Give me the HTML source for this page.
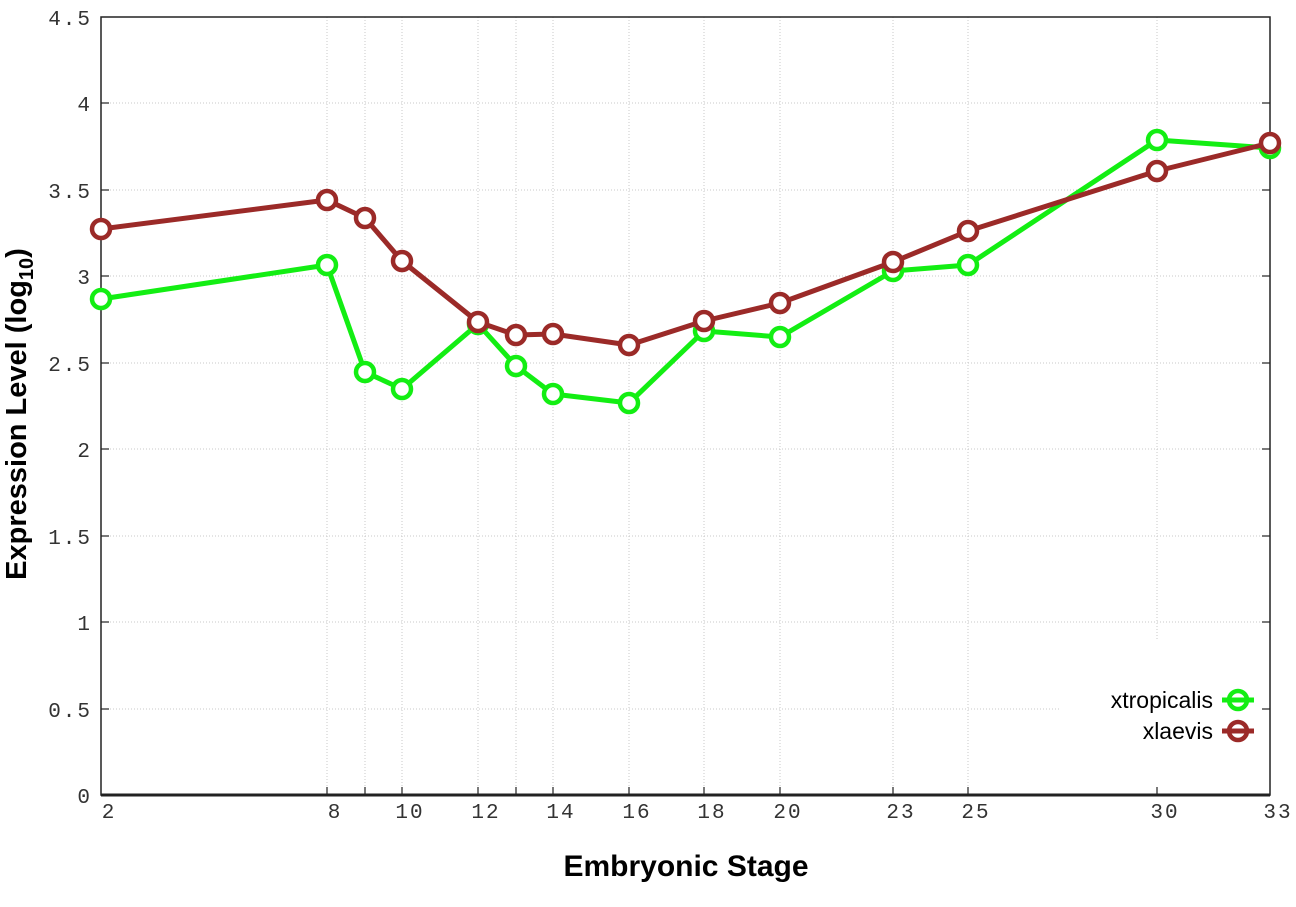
<!DOCTYPE html>
<html><head><meta charset="utf-8"><style>body{margin:0;background:#fff}svg{display:block}</style></head>
<body>
<svg width="1296" height="907" xmlns="http://www.w3.org/2000/svg">
<rect width="1296" height="907" fill="#fff"/>
<g stroke="#c8c8c8" stroke-width="1" stroke-dasharray="1,2">
<line x1="101" x2="1270" y1="103" y2="103"/><line x1="101" x2="1270" y1="190" y2="190"/>
<line x1="101" x2="1270" y1="276" y2="276"/><line x1="101" x2="1270" y1="363" y2="363"/>
<line x1="101" x2="1270" y1="449" y2="449"/><line x1="101" x2="1270" y1="536" y2="536"/>
<line x1="101" x2="1270" y1="622" y2="622"/><line x1="101" x2="1060" y1="709" y2="709"/>
<line x1="327" x2="327" y1="17" y2="795"/><line x1="365" x2="365" y1="17" y2="795"/>
<line x1="402" x2="402" y1="17" y2="795"/><line x1="478" x2="478" y1="17" y2="795"/>
<line x1="516" x2="516" y1="17" y2="795"/><line x1="553" x2="553" y1="17" y2="795"/>
<line x1="629" x2="629" y1="17" y2="795"/><line x1="704" x2="704" y1="17" y2="795"/>
<line x1="780" x2="780" y1="17" y2="795"/><line x1="893" x2="893" y1="17" y2="795"/>
<line x1="968" x2="968" y1="17" y2="795"/><line x1="1157" x2="1157" y1="17" y2="640"/>
</g>
<rect x="101" y="17" width="1169" height="778" fill="none" stroke="#222" stroke-width="1.5"/>
<line x1="101" x2="1270" y1="795" y2="795" stroke="#222" stroke-width="3"/>
<g stroke="#222" stroke-width="1.2">
<line x1="101" x2="109" y1="103" y2="103"/><line x1="101" x2="109" y1="190" y2="190"/><line x1="101" x2="109" y1="276" y2="276"/><line x1="101" x2="109" y1="363" y2="363"/><line x1="101" x2="109" y1="449" y2="449"/><line x1="101" x2="109" y1="536" y2="536"/><line x1="101" x2="109" y1="622" y2="622"/><line x1="101" x2="109" y1="709" y2="709"/>
<line x1="1262" x2="1270" y1="103" y2="103"/><line x1="1262" x2="1270" y1="190" y2="190"/><line x1="1262" x2="1270" y1="276" y2="276"/><line x1="1262" x2="1270" y1="363" y2="363"/><line x1="1262" x2="1270" y1="449" y2="449"/><line x1="1262" x2="1270" y1="536" y2="536"/><line x1="1262" x2="1270" y1="622" y2="622"/><line x1="1262" x2="1270" y1="709" y2="709"/>
<line x1="327" x2="327" y1="787" y2="795"/><line x1="365" x2="365" y1="787" y2="795"/><line x1="402" x2="402" y1="787" y2="795"/><line x1="478" x2="478" y1="787" y2="795"/><line x1="516" x2="516" y1="787" y2="795"/><line x1="553" x2="553" y1="787" y2="795"/><line x1="629" x2="629" y1="787" y2="795"/><line x1="704" x2="704" y1="787" y2="795"/><line x1="780" x2="780" y1="787" y2="795"/><line x1="893" x2="893" y1="787" y2="795"/><line x1="968" x2="968" y1="787" y2="795"/><line x1="1157" x2="1157" y1="787" y2="795"/>
</g>
<g font-family="Liberation Mono, monospace" font-size="21" fill="#333" text-anchor="end" letter-spacing="2">
<text x="92" y="25">4.5</text><text x="92" y="111">4</text><text x="92" y="198">3.5</text><text x="92" y="284">3</text><text x="92" y="371">2.5</text><text x="92" y="457">2</text><text x="92" y="544">1.5</text><text x="92" y="630">1</text><text x="92" y="717">0.5</text><text x="92" y="803">0</text>
</g>
<g font-family="Liberation Mono, monospace" font-size="21" fill="#333" text-anchor="middle" letter-spacing="2">
<text x="109" y="818">2</text><text x="335" y="818">8</text><text x="410" y="818">10</text><text x="486" y="818">12</text><text x="561" y="818">14</text><text x="637" y="818">16</text><text x="712" y="818">18</text><text x="788" y="818">20</text><text x="901" y="818">23</text><text x="976" y="818">25</text><text x="1165" y="818">30</text><text x="1278" y="818">33</text>
</g>
<text x="686" y="876" font-family="Liberation Sans, sans-serif" font-weight="bold" font-size="30" text-anchor="middle">Embryonic Stage</text>
<text transform="translate(26,414) rotate(-90)" font-family="Liberation Sans, sans-serif" font-weight="bold" font-size="29" text-anchor="middle">Expression Level (log<tspan font-size="20" dy="7">10</tspan><tspan dy="-7">)</tspan></text>
<g fill="none" stroke-width="5" stroke-linejoin="round">
<polyline stroke="#13ee13" points="101,299 327,265 365,372 402,389 478,324 516,366 553,394 629,403 704,331 780,337 893,271 968,265 1157,140 1270,148"/>
<g stroke="#13ee13" stroke-width="4.5" fill="#fff">
<circle cx="101" cy="299" r="9"/><circle cx="327" cy="265" r="9"/><circle cx="365" cy="372" r="9"/><circle cx="402" cy="389" r="9"/><circle cx="478" cy="324" r="9"/><circle cx="516" cy="366" r="9"/><circle cx="553" cy="394" r="9"/><circle cx="629" cy="403" r="9"/><circle cx="704" cy="331" r="9"/><circle cx="780" cy="337" r="9"/><circle cx="893" cy="271" r="9"/><circle cx="968" cy="265" r="9"/><circle cx="1157" cy="140" r="9"/><circle cx="1270" cy="148" r="9"/>
</g>
<polyline stroke="#9b2a28" points="101,229 327,200 365,218 402,261 478,322 516,335 553,334 629,345 704,321 780,303 893,262 968,231 1157,171 1270,143"/>
<g stroke="#9b2a28" stroke-width="4.5" fill="#fff">
<circle cx="101" cy="229" r="9"/><circle cx="327" cy="200" r="9"/><circle cx="365" cy="218" r="9"/><circle cx="402" cy="261" r="9"/><circle cx="478" cy="322" r="9"/><circle cx="516" cy="335" r="9"/><circle cx="553" cy="334" r="9"/><circle cx="629" cy="345" r="9"/><circle cx="704" cy="321" r="9"/><circle cx="780" cy="303" r="9"/><circle cx="893" cy="262" r="9"/><circle cx="968" cy="231" r="9"/><circle cx="1157" cy="171" r="9"/><circle cx="1270" cy="143" r="9"/>
</g>
</g>
<g font-family="Liberation Sans, sans-serif" font-size="23" text-anchor="end" fill="#000">
<text x="1213" y="708">xtropicalis</text><text x="1213" y="739">xlaevis</text>
</g>
<line x1="1222" x2="1254" y1="700" y2="700" stroke="#13ee13" stroke-width="5"/>
<circle cx="1238" cy="700" r="9" fill="none" stroke="#13ee13" stroke-width="4.5"/>
<line x1="1222" x2="1254" y1="731" y2="731" stroke="#9b2a28" stroke-width="5"/>
<circle cx="1238" cy="731" r="9" fill="none" stroke="#9b2a28" stroke-width="4.5"/>
</svg>
</body></html>
